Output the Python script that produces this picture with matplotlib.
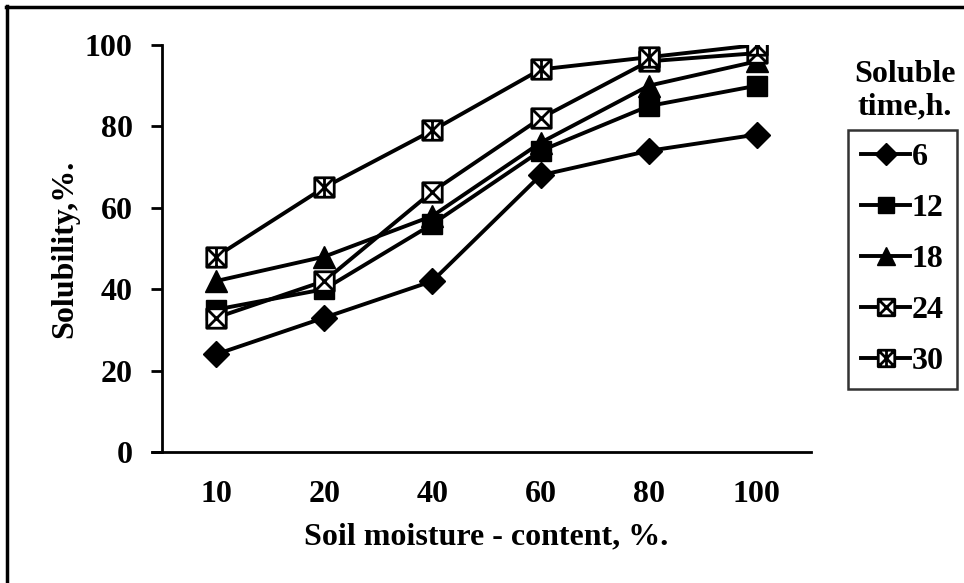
import matplotlib
matplotlib.use("Agg")
import matplotlib.pyplot as plt
from matplotlib.path import Path
from matplotlib.lines import Line2D
import numpy as np

plt.rcParams['font.family'] = ['Liberation Serif', 'DejaVu Serif']
plt.rcParams['font.weight'] = 'bold'

categories = ['10', '20', '40', '60', '80', '100']
series_labels = ['6', '12', '18', '24', '30']
s6 = [24, 33, 42, 68, 74, 78]
s12 = [35, 40, 56, 74, 85, 90]
s18 = [42, 48, 58, 76, 90, 96]
s24 = [33, 42, 64, 82, 96, 98]
s30 = [48, 65, 79, 94, 97, 100]
yticks = [0, 20, 40, 60, 80, 100]

# custom markers
box_x = Path([(-1, -1), (1, -1), (1, 1), (-1, 1), (-1, -1),
              (-1, -1), (1, 1), (-1, 1), (1, -1)],
             [Path.MOVETO, Path.LINETO, Path.LINETO, Path.LINETO, Path.CLOSEPOLY,
              Path.MOVETO, Path.LINETO, Path.MOVETO, Path.LINETO])
box_x_v = Path([(-1, -1), (1, -1), (1, 1), (-1, 1), (-1, -1),
                (-1, -1), (1, 1), (-1, 1), (1, -1), (0, 1), (0, -1)],
               [Path.MOVETO, Path.LINETO, Path.LINETO, Path.LINETO, Path.CLOSEPOLY,
                Path.MOVETO, Path.LINETO, Path.MOVETO, Path.LINETO, Path.MOVETO, Path.LINETO])

FS = 23
fig = plt.figure(figsize=(9.64, 5.83), dpi=100)
ax = fig.add_axes([162/964, 1-452/583, (811-162)/964, (452-45)/583])

x = np.arange(len(categories))
lw = 2.8
styles = [
    dict(marker='D', markersize=13, mfc='black', mec='black'),
    dict(marker='s', markersize=14, mfc='black', mec='black'),
    dict(marker='^', markersize=16, mfc='black', mec='black'),
    dict(marker=box_x, markersize=14, mfc='white', mec='black', mew=2.0),
    dict(marker=box_x_v, markersize=14, mfc='white', mec='black', mew=2.0),
]
handles = []
for data, lab, st in zip([s6, s12, s18, s24, s30], series_labels, styles):
    h, = ax.plot(x, data, color='black', lw=lw, label=lab, **st)
    handles.append(h)

ax.set_xlim(-0.5, 5.5)
ax.set_ylim(0, 100)
ax.set_yticks(yticks)
ax.set_xticks(x)
ax.set_xticklabels(categories)
ax.tick_params(axis='x', length=0, pad=20, labelsize=FS)
ax.tick_params(axis='y', length=8, width=2, direction='out', pad=13, labelsize=FS)
for s in ['top', 'right']:
    ax.spines[s].set_visible(False)
for s in ['left', 'bottom']:
    ax.spines[s].set_linewidth(2)
ax.spines['bottom'].set_bounds(-0.5 - 10/108.2, 5.5)
ax.set_xlabel('Soil moisture - content, %.', fontsize=FS, fontweight='bold', labelpad=10)
ax.set_ylabel('Solubility,%.', fontsize=FS, fontweight='bold', labelpad=4)

leg = fig.legend(handles=handles, labels=series_labels, loc='upper left',
                 bbox_to_anchor=(848/964, 1-130/583), fontsize=FS,
                 frameon=True, fancybox=False, edgecolor='black',
                 handlelength=1.55, handletextpad=0.05, labelspacing=0.68,
                 borderpad=0.4, borderaxespad=0, markerscale=0.85)
leg.get_frame().set_linewidth(1.8)

fig.text(905/964, 1-91/583, 'Soluble\ntime,h.', ha='center', va='center',
         fontsize=FS, fontweight='bold', linespacing=1.15)

# outer border (left and top)
fig.add_artist(Line2D([7/964, 7/964], [0, 1-6/583], transform=fig.transFigure,
                      color='black', lw=2.5))
fig.add_artist(Line2D([6/964, 1], [1-7/583, 1-7/583], transform=fig.transFigure,
                      color='black', lw=2.5))

fig.savefig('out.png', dpi=100)
